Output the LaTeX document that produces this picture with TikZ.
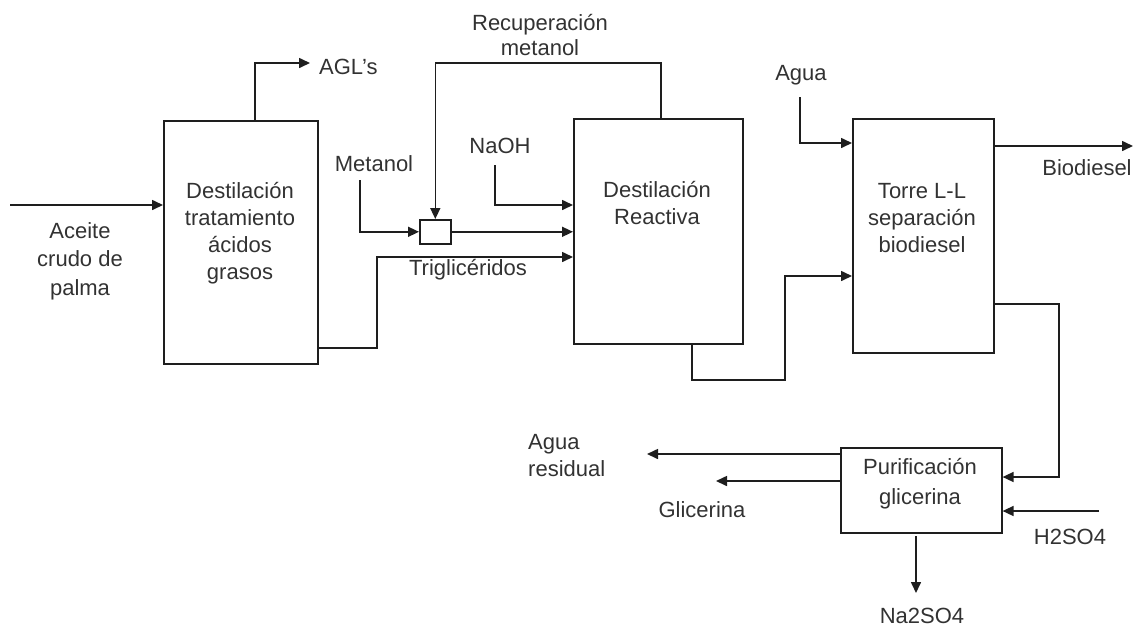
\documentclass[tikz,border=0pt]{standalone}
\usepackage{fontspec}
\setmainfont{Liberation Sans}
\usetikzlibrary{arrows.meta}
\definecolor{txt}{RGB}{50,50,50}
\definecolor{ln}{RGB}{30,30,30}
\begin{document}
\begin{tikzpicture}[x=1pt,y=-1pt,
  unitbox/.style={draw=ln, line width=1.6pt, inner sep=0pt, anchor=north west},
  lbl/.style={text=txt, inner sep=0pt, align=center, font=\fontsize{22}{27}\selectfont},
  flow/.style={draw=ln, line width=1.6pt, -{Triangle[length=11pt,width=10pt]}}]
\useasboundingbox (0,0) rectangle (1144,630);
% units
\node[unitbox, minimum width=154pt, minimum height=243pt] (box1) at (163,120) {};
\node[unitbox, minimum width=169pt, minimum height=225pt] (box2) at (573,118) {};
\node[unitbox, minimum width=141pt, minimum height=234pt] (box3) at (852,118) {};
\node[unitbox, minimum width=161pt, minimum height=85pt] (box4) at (840,447) {};
\node[unitbox, minimum width=31pt, minimum height=24pt] (mix) at (419,219) {};
% unit labels
\node[lbl] (t1) at (240,233) {Destilación\\tratamiento\\ácidos\\grasos};
\node[lbl] (t2) at (657,203) {Destilación\\Reactiva};
\node[lbl] (t3) at (922,218) {Torre L-L\\separación\\biodiesel};
\node[lbl, font=\fontsize{22}{30}\selectfont] (t4) at (920,484) {Purificación\\glicerina};
% stream labels
\node[lbl, font=\fontsize{22}{28.5}\selectfont] (lAceite) at (80,261) {Aceite\\crudo de\\palma};
\node[lbl, anchor=west] (lAGL) at (319,67) {AGL’s};
\node[lbl, font=\fontsize{22}{25}\selectfont] (lRec) at (540,35) {Recuperación\\metanol};
\node[lbl] (lMet) at (374,164) {Metanol};
\node[lbl] (lNaOH) at (500,146) {NaOH};
\node[lbl] (lTri) at (468,270) {Triglicéridos};
\node[lbl] (lAgua) at (801,75) {Agua};
\node[lbl] (lBio) at (1087,168) {Biodiesel};
\node[lbl, align=left, anchor=west] (lAR) at (528,456) {Agua\\residual};
\node[lbl] (lGli) at (702,510) {Glicerina};
\node[lbl] (lH2) at (1070,537) {H2SO4};
\node[lbl] (lNa) at (922,616) {Na2SO4};
% coordinates
\coordinate (inA) at (10,205);
\coordinate (a1) at (255,63);
\coordinate (a2) at (310,63);
\coordinate (r1) at (661,63);
\coordinate (m1) at (360,180);
\coordinate (n1) at (495,165);
\coordinate (nh) at (495,205);
\coordinate (tr1) at (377,348);
\coordinate (tr2) at (377,257);
\coordinate (o1) at (692,380);
\coordinate (o2) at (785,380);
\coordinate (o3) at (785,276);
\coordinate (w1) at (800,97);
\coordinate (w2) at (800,143);
\coordinate (b1) at (1133,146);
\coordinate (p1) at (1059,304);
\coordinate (p2) at (1059,477);
\coordinate (h1) at (1099,511);
\coordinate (s1) at (916,536);
\coordinate (s2) at (916,593);
\coordinate (ar) at (647,454);
\coordinate (gl) at (716,481);
% connectors
\draw[flow] (inA) -- (inA -| box1.west);
\draw[flow] (a1 |- box1.north) -- (a1) -- (a2);
\draw[flow] (r1 |- box2.north) -- (r1) -- (r1 -| mix.north) -- (mix.north);
\draw[flow] (m1) -- (m1 |- mix.west) -- (mix.west);
\draw[flow] (mix.east) -- (mix.east -| box2.west);
\draw[flow] (n1) -- (nh) -- (nh -| box2.west);
\draw[flow] (tr1 -| box1.east) -- (tr1) -- (tr2) -- (tr2 -| box2.west);
\draw[flow] (o1 |- box2.south) -- (o1) -- (o2) -- (o3) -- (o3 -| box3.west);
\draw[flow] (w1) -- (w2) -- (w2 -| box3.west);
\draw[flow] (b1 -| box3.east) -- (b1);
\draw[flow] (p1 -| box3.east) -- (p1) -- (p2) -- (p2 -| box4.east);
\draw[flow] (h1) -- (h1 -| box4.east);
\draw[flow] (s1) -- (s2);
\draw[flow] (ar -| box4.west) -- (ar);
\draw[flow] (gl -| box4.west) -- (gl);
\end{tikzpicture}
\end{document}
